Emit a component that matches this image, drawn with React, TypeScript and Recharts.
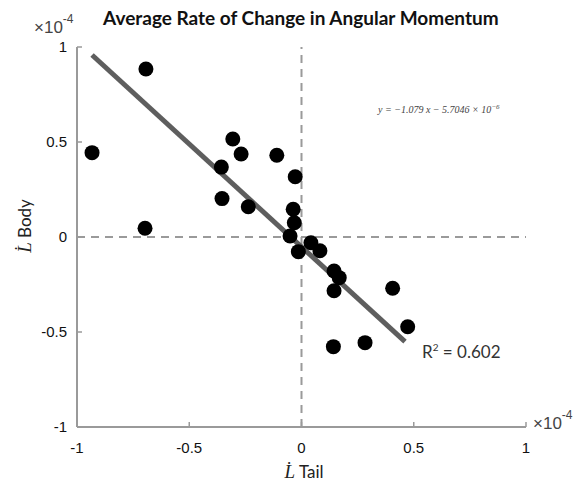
import React from 'react';
import {
  ScatterChart,
  Scatter,
  XAxis,
  YAxis,
  ReferenceLine,
} from 'recharts';

// values in units of 1e-4
const tailRates = [
  -0.933, -0.693, -0.697, -0.306, -0.269, -0.357, -0.354, -0.237, -0.11, -0.028, -0.037, -0.032,
  -0.051, -0.014, 0.042, 0.082, 0.145, 0.168, 0.145, 0.406, 0.473, 0.142, 0.283,
];
const bodyRates = [
  0.444, 0.884, 0.046, 0.516, 0.437, 0.368, 0.202, 0.159, 0.43, 0.317, 0.146, 0.075,
  0.005, -0.077, -0.03, -0.072, -0.179, -0.214, -0.283, -0.27, -0.472, -0.577, -0.556,
];
const fitEnds = [
  { x: -0.933, y: 0.958 },
  { x: 0.461, y: -0.551 },
];
const axisTicks = [-1, -0.5, 0, 0.5, 1];

const points = tailRates.map((x, i) => ({ x, y: bodyRates[i] }));

const AXIS_GRAY = '#9a9a9a';
const SANS = '"Liberation Sans", Arial, sans-serif';
const CAL = 'Lato, "Open Sans", sans-serif';

const Dot = (p: any) => <circle cx={p.cx} cy={p.cy} r={7.5} fill="#000" />;

const Overlay: React.FC = () => (
  <svg
    width={581}
    height={488}
    style={{ position: 'absolute', left: 0, top: 0, pointerEvents: 'none' }}
  >
    <text x={103} y={25} fontFamily={CAL} fontWeight={700} fontSize={19} fill="#111">
      Average Rate of Change in Angular Momentum
    </text>

    <text x={34} y={33} fontFamily={SANS} fontSize={17} fill="#444">
      ×10
      <tspan fontSize={12} dy={-10}>-4</tspan>
    </text>
    <text x={533} y={429} fontFamily={SANS} fontSize={17} fill="#444">
      ×10
      <tspan fontSize={12} dy={-10}>-4</tspan>
    </text>

    <text x={304} y={478} textAnchor="middle" fill="#222">
      <tspan fontFamily='"Liberation Serif", serif' fontStyle="italic" fontSize={19}>
        L̇
      </tspan>
      <tspan fontFamily={CAL} fontSize={17}> Tail</tspan>
    </text>

    <text x={0} y={0} textAnchor="middle" fill="#222" transform="translate(31,226) rotate(-90)">
      <tspan fontFamily='"Liberation Serif", serif' fontStyle="italic" fontSize={19}>
        L̇
      </tspan>
      <tspan fontFamily={CAL} fontSize={17}> Body</tspan>
    </text>

    <text x={378} y={113} fontFamily='"Liberation Serif", serif' fontStyle="italic" fontSize={10} fill="#444">
      y = −1.079 x − 5.7046 × 10
      <tspan fontSize={7} dy={-4}>−6</tspan>
    </text>

    <text x={422} y={358} fontFamily={CAL} fontSize={17} fill="#333">
      R<tspan fontSize={10} dy={-7}>2</tspan>
      <tspan dy={7}> = 0.602</tspan>
    </text>
  </svg>
);

export default function App() {
  return (
    <div style={{ position: 'absolute', left: 0, top: 0, width: 581, height: 488, background: '#fff' }}>
      <ScatterChart
        width={581}
        height={488}
        margin={{ top: 47, right: 55, bottom: 0, left: 0 }}
      >
        <XAxis
          type="number"
          dataKey="x"
          domain={[-1, 1]}
          ticks={axisTicks}
          height={61}
          axisLine={{ stroke: AXIS_GRAY, strokeWidth: 2 }}
          tickLine={{ stroke: AXIS_GRAY, strokeWidth: 1.5 }}
          tickSize={-5}
          tickMargin={20}
          tick={{ fill: '#111', fontSize: 15, fontFamily: SANS }}
        />
        <YAxis
          type="number"
          dataKey="y"
          domain={[-1, 1]}
          ticks={axisTicks}
          width={77}
          axisLine={{ stroke: AXIS_GRAY, strokeWidth: 2 }}
          tickLine={{ stroke: AXIS_GRAY, strokeWidth: 1.5 }}
          tickSize={-5}
          tickMargin={15}
          tick={{ fill: '#111', fontSize: 15, fontFamily: SANS }}
        />
        <ReferenceLine x={0} stroke={AXIS_GRAY} strokeWidth={2} strokeDasharray="8 6" />
        <ReferenceLine y={0} stroke={AXIS_GRAY} strokeWidth={2} strokeDasharray="8 6" />
        <ReferenceLine segment={fitEnds} stroke="#5e5e5e" strokeWidth={5} />
        <Scatter data={points} shape={Dot} isAnimationActive={false} />
      </ScatterChart>
      <Overlay />
    </div>
  );
}
